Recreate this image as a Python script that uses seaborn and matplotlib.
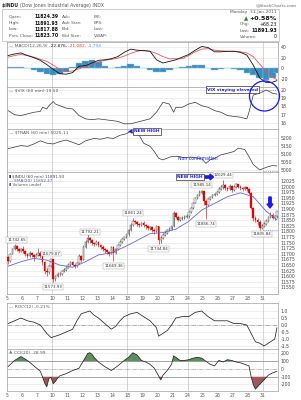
import numpy as np
import pandas as pd
import matplotlib
matplotlib.use("Agg")
import matplotlib.pyplot as plt
import seaborn as sns
from matplotlib.patches import Ellipse

# ---------------- data ----------------
day_labels = ['5', '6', '7', '10', '11', '12', '13', '14', '18', '19',
              '20', '21', '24', '25', '26', '27', '28', '31']
bars_per_day = 7
week_start_days = ['10', '18', '24', '31']

first_open = 11688.0
close = [11668, 11700, 11722, 11735, 11720, 11712, 11723,
         11712, 11700, 11690, 11705, 11696, 11688, 11697,
         11705, 11690, 11665, 11625, 11618, 11645, 11675,
         11590, 11600, 11612, 11610, 11622, 11630, 11637,
         11650, 11662, 11650, 11645, 11660, 11690, 11672,
         11730, 11752, 11770, 11760, 11748, 11742, 11755,
         11740, 11732, 11722, 11715, 11708, 11700, 11732,
         11705, 11722, 11740, 11755, 11766, 11775, 11787,
         11805, 11830, 11848, 11840, 11832, 11828, 11837,
         11830, 11822, 11815, 11818, 11808, 11800, 11825,
         11760, 11772, 11785, 11795, 11805, 11812, 11822,
         11882, 11866, 11852, 11858, 11862, 11866, 11871,
         11885, 11905, 11928, 11948, 11962, 11972, 11980,
         11935, 11920, 11945, 11955, 11962, 11968, 11977,
         11990, 11998, 12005, 11995, 11990, 12002, 11985,
         11998, 12010, 12000, 11995, 11990, 11996, 11989,
         11970, 11905, 11860, 11850, 11842, 11815, 11823,
         11835, 11848, 11865, 11875, 11862, 11868, 11892]
high = [11690, 11705, 11728, 11743, 11738, 11725, 11728,
        11736, 11718, 11705, 11712, 11710, 11700, 11702,
        11726, 11712, 11695, 11668, 11635, 11650, 11679,
        11679, 11605, 11618, 11620, 11626, 11635, 11642,
        11660, 11668, 11668, 11655, 11665, 11700, 11695,
        11740, 11760, 11792, 11775, 11765, 11752, 11760,
        11758, 11745, 11738, 11728, 11720, 11712, 11735,
        11735, 11728, 11745, 11760, 11770, 11780, 11790,
        11812, 11838, 11861, 11852, 11845, 11836, 11842,
        11845, 11835, 11828, 11825, 11822, 11815, 11830,
        11826, 11780, 11792, 11800, 11810, 11818, 11826,
        11892, 11885, 11868, 11864, 11868, 11872, 11878,
        11890, 11910, 11932, 11952, 11968, 11985, 11984,
        11978, 11942, 11950, 11960, 11968, 11972, 11982,
        11998, 12005, 12029, 12010, 12000, 12010, 12008,
        12005, 12018, 12012, 12008, 12000, 12002, 12000,
        11995, 11975, 11910, 11870, 11858, 11850, 11835,
        11840, 11855, 11870, 11885, 11880, 11875, 11892]
low = [11653, 11665, 11698, 11718, 11712, 11705, 11708,
       11705, 11692, 11680, 11685, 11688, 11667, 11684,
       11690, 11682, 11650, 11610, 11600, 11612, 11640,
       11574, 11580, 11595, 11600, 11605, 11618, 11625,
       11635, 11645, 11645, 11636, 11640, 11655, 11665,
       11672, 11725, 11748, 11748, 11740, 11735, 11738,
       11730, 11720, 11712, 11705, 11700, 11690, 11698,
       11669, 11700, 11718, 11735, 11750, 11760, 11770,
       11780, 11800, 11825, 11832, 11822, 11818, 11822,
       11820, 11812, 11805, 11808, 11798, 11790, 11798,
       11745, 11748, 11765, 11780, 11790, 11800, 11805,
       11820, 11860, 11845, 11846, 11852, 11856, 11860,
       11862, 11880, 11900, 11925, 11944, 11958, 11966,
       11920, 11857, 11915, 11940, 11950, 11958, 11962,
       11970, 11985, 11990, 11985, 11980, 11985, 11978,
       11980, 11992, 11995, 11985, 11980, 11985, 11982,
       11965, 11900, 11848, 11840, 11830, 11806, 11810,
       11818, 11828, 11840, 11860, 11855, 11850, 11860]

ema_t = [0, 6, 12, 18, 24, 30, 36, 42, 48, 54, 60, 66, 72, 78, 84, 90, 96, 102, 108, 114, 120, 125]
ema_v = [11645, 11665, 11680, 11672, 11650, 11640, 11665, 11695, 11705, 11730, 11760, 11790,
         11795, 11810, 11845, 11895, 11925, 11955, 11972, 11955, 11890, 11852]

note_t = [4, 20, 21, 38, 49, 58, 70, 90, 92, 100, 118]
note_val = [11742.65, 11679.07, 11573.93, 11792.21, 11669.36, 11861.24, 11744.84,
            11985.14, 11856.74, 12029.44, 11805.84]
note_side = ['up', 'up', 'down', 'up', 'down', 'up', 'down', 'up', 'down', 'up', 'down']

macd_t = list(range(0, 124, 3)) + [125]
macd_line = [24, 27, 29, 24, 20, 15, 7, -2, -10, -11, -8, 4, 5, 10, 15, 16, 18, 22, 30, 36, 34,
             33, 32, 16, 10, 13, 16, 21, 26, 34, 41, 39, 31, 31, 32, 32, 30, 25, 6, -18, -27, -26, -23]
macd_signal = [21, 24, 26, 24, 21, 17, 13, 6, -2, -6, -5, -1, 4, 8, 12, 15, 17, 19, 23, 28, 32,
               34, 32, 28, 22, 18, 18, 18, 24, 31, 36, 37, 34, 33, 32, 32, 31, 29, 22, 8, -6, -17, -21]
macd_hist = [3, 3, 2, 0, -3, -6, -11, -13, -11, -7, 3, 10, 14, 15, 12, 5, 1, 3, 5, 8, 5,
             1, -4, -7, -7, -4, 0, 3, 5, 7, 7, 1, -3, -1, 0, -2, -4, -8, -12, -18, -22, -19, -8]

vix_t = [0, 3, 6, 9, 12, 15, 16, 18, 19, 21, 22, 24, 27, 30, 33, 36, 39, 42, 45, 48, 51, 54, 57, 60,
         63, 66, 69, 72, 75, 77, 78, 81, 84, 87, 90, 93, 96, 99, 102, 105, 108, 111, 112, 114, 117,
         120, 123, 125]
vix_v = [17.5, 17.0, 16.9, 17.1, 17.3, 17.4, 17.9, 17.7, 18.1, 18.6, 18.3, 18.1, 17.8, 17.7, 16.9,
         16.5, 16.4, 16.5, 16.4, 16.3, 16.2, 15.9, 15.9, 16.1, 16.3, 16.5, 17.3, 18.5, 18.3, 17.3,
         17.9, 17.9, 18.3, 18.5, 18.1, 17.9, 17.5, 17.3, 16.9, 16.8, 16.7, 16.5, 17.3, 19.4, 19.6,
         20.0, 19.6, 19.5]

tran_t = [0, 3, 6, 9, 12, 15, 18, 21, 24, 27, 30, 33, 36, 40, 43, 46, 49, 52, 55, 57, 59, 61, 63,
          66, 68, 70, 72, 74, 76, 79, 82, 85, 88, 90, 92, 94, 96, 99, 102, 105, 107, 110, 112, 114,
          117, 119, 121, 123, 125]
tran_v = [5135, 5145, 5155, 5150, 5165, 5185, 5170, 5165, 5180, 5190, 5175, 5160, 5185, 5200, 5195,
          5205, 5200, 5220, 5230, 5245, 5230, 5220, 5170, 5150, 5117, 5074, 5064, 5075, 5085, 5085,
          5078, 5082, 5075, 5070, 5042, 5065, 5074, 5096, 5106, 5117, 5138, 5130, 5085, 5035, 5000,
          5011, 5021, 5028, 5025]

roc_t = [0, 3, 6, 9, 12, 15, 18, 20, 22, 24, 27, 30, 32, 34, 36, 38, 40, 42, 45, 48, 50, 52, 54, 57,
         60, 63, 66, 69, 70, 72, 74, 76, 78, 81, 84, 87, 90, 93, 96, 99, 102, 105, 108, 111, 113,
         115, 117, 119, 121, 123, 124, 125]
roc_v = [0.1, 0.3, 0.5, 0.3, 0.2, 0.0, -0.6, -0.9, -0.8, -0.7, -0.5, -0.3, 0.3, 0.8, 0.9, 1.0, 0.7,
         0.5, 0.1, -0.3, -0.1, 0.3, 0.6, 0.8, 0.9, 0.6, 0.3, -0.2, -0.8, -0.6, -0.4, 0.0, 0.5, 0.6,
         0.6, 0.9, 1.0, 0.6, 0.3, 0.3, 0.3, 0.1, 0.1, 0.0, -0.6, -1.2, -1.3, -1.5, -1.3, -1.1, -1.0,
         -0.2]

cci_t = [0, 3, 6, 9, 12, 15, 16, 17, 18, 19, 20, 21, 22, 23, 24, 27, 30, 33, 36, 37, 38, 39, 40, 42,
         45, 48, 51, 54, 56, 58, 60, 62, 64, 66, 68, 70, 71, 72, 74, 76, 77, 78, 80, 82, 84, 86, 88,
         90, 92, 94, 96, 98, 100, 102, 104, 106, 108, 110, 112, 113, 114, 115, 117, 119, 121, 123, 125]
cci_v = [30, 110, 160, 110, 40, -30, -100, -180, -230, -120, -110, -190, -160, -120, -90, -60, -20,
         10, 150, 200, 210, 190, 150, 90, 30, -20, 40, 110, 150, 210, 180, 110, 90, 60, 10, -90, -140,
         -80, -20, 60, 170, 150, 110, 110, 120, 140, 150, 140, 100, 60, 40, 110, 90, 120, 110, 90, 80,
         60, 40, -100, -200, -260, -200, -140, -80, -50, -29]

macd_ticks = [40, 20, 0, -20]
vix_ticks = [20, 19, 18, 17, 16]
tran_ticks = [5200, 5150, 5100, 5050, 5000]
price_ticks = list(range(12025, 11549, -25))
roc_ticks = [1.0, 0.5, 0.0, -0.5, -1.0, -1.5]
cci_ticks = [200, 100, 0, -100, -200]

# ---------------- figure ----------------
sns.set_theme(style="white")
plt.rcParams['font.family'] = ['DejaVu Sans']
W, H = 301, 400
fig = plt.figure(figsize=(W / 100, H / 100), dpi=100)
fig.patch.set_facecolor('white')
R = fig.canvas.get_renderer()

NB = len(close)
X0, X1 = 7, 278
XLIM = (-0.5, NB - 0.5)
day_start = [i * bars_per_day - 0.5 for i in range(len(day_labels))]
week_t = [day_start[day_labels.index(d)] for d in week_start_days]
FS = 3.3
GRID = '#e4e4e4'


def panel(y0, y1, ylim, ticks, fmt):
    ax = fig.add_axes([X0 / W, 1 - y1 / H, (X1 - X0) / W, (y1 - y0) / H])
    ax.set_xlim(*XLIM)
    ax.set_ylim(*ylim)
    ax.set_facecolor('white')
    for s in ax.spines.values():
        s.set_color('#9c9c9c')
        s.set_linewidth(0.5)
    ax.set_yticks(ticks)
    ax.set_yticklabels([fmt(v) for v in ticks])
    ax.tick_params(axis='both', length=0, width=0)
    ax.tick_params(axis='y', left=False, right=False, labelleft=False, labelright=True,
                   labelsize=FS, labelcolor='#444444', pad=2.0)
    ax.tick_params(axis='x', bottom=False, labelbottom=False)
    for v in ticks:
        ax.axhline(v, color=GRID, lw=0.45, zorder=0)
    for wt in week_t:
        ax.axvline(wt, color='#c4c4c4', lw=0.5, zorder=0)
    ax.set_xlabel('')
    ax.set_ylabel('')
    return ax


def ptext(x, y, parts, size=FS, **kw):
    for s, col, wt in parts:
        t = fig.text(x / W, 1 - y / H, s, fontsize=size, color=col, fontweight=wt,
                     ha='left', va='center', **kw)
        x += t.get_window_extent(R).width
    return x


# ---------------- header ----------------
ptext(2, 5, [('$INDU ', '#222222', 'bold'), ('(Dow Jones Industrial Average) INDX', '#555555', 'normal')], size=3.3)
fig.text(297 / W, 1 - 5 / H, '@StockCharts.com', fontsize=3.2, color='#666666', ha='right', va='center')
box = matplotlib.patches.Rectangle((2 / W, 1 - 41 / H), 277 / W, 32 / H, transform=fig.transFigure,
                                   fill=False, ec='#b8b8b8', lw=0.5)
fig.add_artist(box)
rows_left = [('Open:', '11824.39', 'Ask:', 'P/E:'),
             ('High:', '11891.93', 'Ask Size:', 'EPS:'),
             ('Low:', '11817.88', 'Bid:', 'Last:'),
             ('Prev Close:', '11823.70', 'Bid Size:', 'VWAP:')]
for i, (a, b, c, d) in enumerate(rows_left):
    yy = 17 + i * 6.2
    fig.text(9 / W, 1 - yy / H, a, fontsize=3.2, color='#555555', va='center')
    fig.text(35 / W, 1 - yy / H, b, fontsize=3.3, color='#111111', fontweight='bold', va='center')
    fig.text(62 / W, 1 - yy / H, c, fontsize=3.2, color='#555555', va='center')
    fig.text(94 / W, 1 - yy / H, d, fontsize=3.2, color='#555555', va='center')
fig.text(277 / W, 1 - 12.5 / H, 'Monday  31-Jan-2011', fontsize=3.2, color='#555555', ha='right', va='center')
fig.text(277 / W, 1 - 18.5 / H, '+0.58%', fontsize=4.6, color='#111111', fontweight='bold', ha='right', va='center')
fig.text(246 / W, 1 - 18.5 / H, '\u25B2', fontsize=4.0, color='#2e8b2e', ha='center', va='center')
fig.text(240 / W, 1 - 24.5 / H, 'Chg:', fontsize=3.2, color='#555555', va='center')
fig.text(277 / W, 1 - 24.5 / H, '+68.23', fontsize=3.3, color='#111111', ha='right', va='center')
fig.text(240 / W, 1 - 30.5 / H, 'Last:', fontsize=3.2, color='#555555', va='center')
fig.text(277 / W, 1 - 30.5 / H, '11891.93', fontsize=3.5, color='#111111', fontweight='bold', ha='right', va='center')
fig.text(240 / W, 1 - 36.5 / H, 'Volume:', fontsize=3.2, color='#555555', va='center')
fig.text(277 / W, 1 - 36.5 / H, '0', fontsize=3.3, color='#111111', ha='right', va='center')

# ---------------- MACD ----------------
ax_m = panel(42, 87, (-35, 49.4), macd_ticks, lambda v: f'{v}')
ax_m.bar(macd_t, macd_hist, width=3.0, color='#3a8dc0', edgecolor='#8cc0de', lw=0.3, zorder=2)
sns.lineplot(x=macd_t, y=macd_signal, ax=ax_m, color='#ee5555', lw=0.6, zorder=3)
sns.lineplot(x=macd_t, y=macd_line, ax=ax_m, color='#111111', lw=0.6, zorder=4)
ax_m.set_xlabel(''); ax_m.set_ylabel('')
ptext(9, 46, [('\u2014 MACD(12,26,9) ', '#555555', 'normal'), ('-22.876, ', '#222222', 'normal'),
              ('-21.082, ', '#e04040', 'normal'), ('-1.794', '#4aa0d0', 'normal')], size=3.2)

# ---------------- VIX ----------------
ax_v = panel(87, 129, (15.27, 20.36), vix_ticks, lambda v: f'{v}')
sns.lineplot(x=vix_t, y=vix_v, ax=ax_v, color='#333333', lw=0.5)
ax_v.set_xlabel(''); ax_v.set_ylabel('')
ptext(9, 91, [('\u2014 $VIX (60 min) 19.50', '#555555', 'normal')], size=3.2)
fig.text(232.5 / W, 1 - 89.5 / H, 'VIX staying elevated', fontsize=3.2, color='#1a1aee', fontweight='bold',
         ha='center', va='center',
         bbox=dict(boxstyle='square,pad=0.25', fc='white', ec='#333333', lw=0.5))
fig.add_artist(matplotlib.lines.Line2D([259 / W, 277 / W], [1 - 89.5 / H, 1 - 89.5 / H],
                                       transform=fig.transFigure, color='#6a6aff', lw=0.6, ls=':'))

# ---------------- TRAN ----------------
ax_t = panel(129, 172, (4987, 5260), tran_ticks, lambda v: f'{v}')
sns.lineplot(x=tran_t, y=tran_v, ax=ax_t, color='#333333', lw=0.5)
ax_t.set_xlabel(''); ax_t.set_ylabel('')
ptext(9, 133, [('\u2014 $TRAN (60 min) 5025.11', '#555555', 'normal')], size=3.2)
fig.text(147 / W, 1 - 131.5 / H, 'NEW HIGH', fontsize=3.2, color='#1a1aee', fontweight='bold',
         ha='center', va='center', bbox=dict(boxstyle='square,pad=0.25', fc='white', ec='#333333', lw=0.5))
fig.text(130 / W, 1 - 131.5 / H, '\u25C0', fontsize=4.2, color='#1a1aee', ha='center', va='center')
fig.text(198 / W, 1 - 158.5 / H, 'Non confirmation', fontsize=3.3, color='#1a1aee', ha='center', va='center')
fig.add_artist(matplotlib.lines.Line2D([263 / W, 277 / W], [1 - 171 / H, 1 - 171 / H],
                                       transform=fig.transFigure, color='#6a6aff', lw=0.6, ls=':'))

# ---------------- PRICE ----------------
ax_p = panel(172, 294, (11521, 12065), price_ticks, lambda v: f'{v}')
tt = np.arange(NB)
c = np.array(close, float)
o = np.array([first_open] + close[:-1], float)
hi = np.array(high, float)
lo = np.array(low, float)
upb = c >= o
wick_col = np.where(upb, '#444444', '#dd1111')
ax_p.vlines(tt, lo, hi, colors=wick_col, lw=0.45, zorder=3)
ax_p.bar(tt[upb], np.maximum(c - o, 1.5)[upb], bottom=o[upb], width=0.75, color='white',
         edgecolor='#555555', lw=0.35, zorder=4)
ax_p.bar(tt[~upb], (o - c)[~upb], bottom=c[~upb], width=0.8, color='#e00000',
         edgecolor='#e00000', lw=0.2, zorder=4)
sns.lineplot(x=ema_t, y=ema_v, ax=ax_p, color='#6666cc', lw=0.6, zorder=5)
ax_p.set_xlabel(''); ax_p.set_ylabel('')
for nt, nv, side in zip(note_t, note_val, note_side):
    if side == 'up':
        yref, off, va = hi[nt], 2.2, 'bottom'
    else:
        yref, off, va = lo[nt], -2.2, 'top'
    ax_p.annotate(f'{nv:.2f}', xy=(nt, yref), xytext=(0, off), textcoords='offset points',
                  ha='center', va=va, fontsize=2.9, color='#333333', zorder=6,
                  bbox=dict(boxstyle='square,pad=0.2', fc='white', ec='#999999', lw=0.3))
ax_p.set_xticks(day_start)
ax_p.set_xticklabels(day_labels)
ax_p.tick_params(axis='x', bottom=False, labelbottom=True, labelsize=FS, labelcolor='#555555',
                 pad=1.2, length=0)
ptext(9, 177, [('\u25AE ', '#222222', 'normal'), ('$INDU (60 min) 11891.93', '#444444', 'normal')], size=3.0)
ptext(9, 181, [('\u2014 EMA(20) 11852.47', '#5555bb', 'normal')], size=3.0)
ptext(9, 185, [('\u25AE Volume undef', '#555555', 'normal')], size=3.0)
fig.text(190 / W, 1 - 177 / H, 'NEW HIGH', fontsize=3.2, color='#1a1aee', fontweight='bold',
         ha='center', va='center', bbox=dict(boxstyle='square,pad=0.25', fc='white', ec='#333333', lw=0.5))
fig.add_artist(matplotlib.patches.FancyArrow(204 / W, 1 - 177 / H, 6 / W, 0, width=2.2 / H,
                                             head_width=6 / H, head_length=3.5 / W,
                                             transform=fig.transFigure, color='#1a1aee'))
fig.add_artist(matplotlib.patches.FancyArrow(270 / W, 1 - 197 / H, 0, -7 / H, width=2.4 / W,
                                             head_width=6 / W, head_length=4 / H,
                                             transform=fig.transFigure, color='#1a1aee'))
fig.add_artist(matplotlib.lines.Line2D([263 / W, 277 / W], [1 - 230 / H, 1 - 230 / H],
                                       transform=fig.transFigure, color='#6a6aff', lw=0.6, ls=':'))

# ---------------- ROC ----------------
ax_r = panel(303, 349, (-1.714, 1.571), roc_ticks, lambda v: f'{v:.1f}')
ax_r.axhline(0, color='#999999', lw=0.5, ls='-.', zorder=1)
sns.lineplot(x=roc_t, y=roc_v, ax=ax_r, color='#222222', lw=0.55)
ax_r.set_xlabel(''); ax_r.set_ylabel('')
ptext(9, 307, [('\u2014 ROC(12) -0.21%', '#555555', 'normal')], size=3.2)

# ---------------- CCI ----------------
ax_c = panel(349, 391, (-284, 258), cci_ticks, lambda v: f'{v}')
ax_c.axhline(100, color='#999999', lw=0.6, zorder=1)
ax_c.axhline(-100, color='#999999', lw=0.6, zorder=1)
ax_c.axhline(0, color='#aaaaaa', lw=0.5, ls='-.', zorder=1)
cv = np.array(cci_v, float)
ct = np.array(cci_t, float)
ax_c.fill_between(ct, 100, cv, where=cv > 100, interpolate=True, color='#5e8f5e', lw=0, zorder=2)
ax_c.fill_between(ct, -100, cv, where=cv < -100, interpolate=True, color='#a05858', lw=0, zorder=2)
sns.lineplot(x=cci_t, y=cci_v, ax=ax_c, color='#222222', lw=0.55, zorder=3)
ax_c.set_xlabel(''); ax_c.set_ylabel('')
ax_c.set_xticks(day_start)
ax_c.set_xticklabels(day_labels)
ax_c.tick_params(axis='x', bottom=False, labelbottom=True, labelsize=FS, labelcolor='#555555',
                 pad=1.2, length=0)
ptext(9, 353, [('\u25B2 ', '#5e8f5e', 'normal'), ('CCI(20) -28.99', '#555555', 'normal')], size=3.2)

# blue ellipse annotation
fig.add_artist(Ellipse((264.5 / W, 1 - 96 / H), 30 / W, 30 / H, transform=fig.transFigure,
                       fill=False, ec='#1a1aee', lw=0.9, zorder=20))

fig.savefig('out.png', dpi=100, facecolor='white')
